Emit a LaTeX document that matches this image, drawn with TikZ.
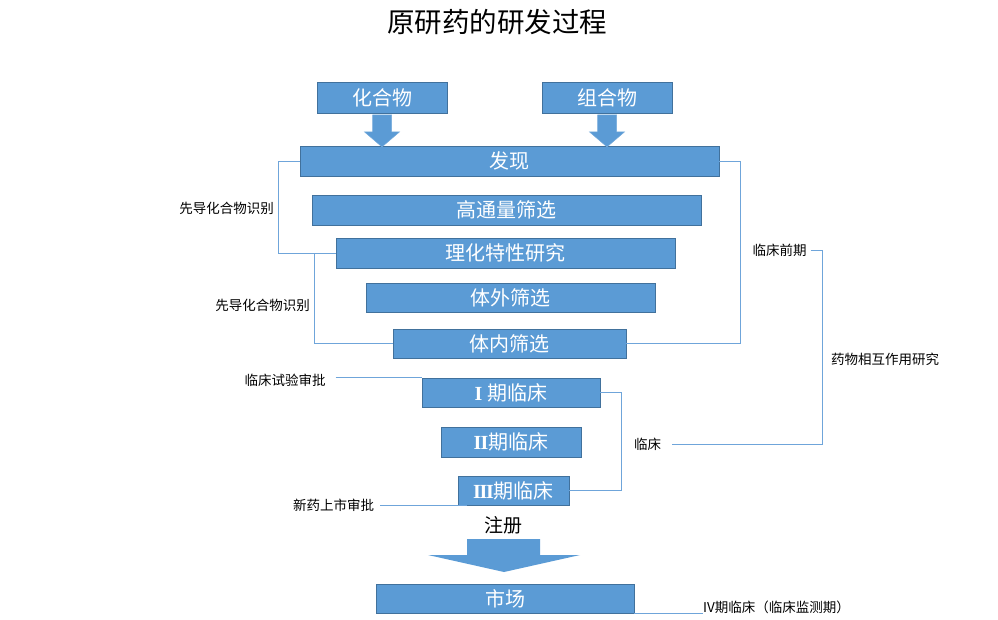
\documentclass[tikz,border=0pt]{standalone}
\usepackage{fontspec}
\setmainfont{Noto Sans CJK SC}
\newfontfamily\romfont{Liberation Serif}
\usetikzlibrary{calc}
\definecolor{bleu}{HTML}{5B9BD5}
\definecolor{bord}{HTML}{41719C}
\definecolor{trait}{HTML}{6FA5DA}

\begin{document}
\begin{tikzpicture}[x=1pt,y=-1pt]
  \tikzstyle{boite}=[rectangle, draw=bord, fill=bleu, line width=0.8pt,
  text=white, font=\fontsize{20}{20}\selectfont, inner sep=0pt]
  \tikzstyle{etiquette}=[inner sep=0pt, text=black,
  font=\fontsize{13.5}{14}\selectfont]
  \tikzstyle{accolade}=[draw=trait, line width=0.8pt]
  \tikzstyle{fleche}=[fill=bleu, draw=bleu!85!white, line width=0.5pt]
  \useasboundingbox (0,0) rectangle (998,619);
  \node[font=\fontsize{27.5}{28}\selectfont] (titre) at (497,22) {原研药的研发过程};
  % les etapes
  \foreach \n/\x/\y/\w/\h/\t in {hua/382/97.5/130/31/化合物, zu/607/97.5/130/31/组合物,
    faxian/509.5/161/419/30/发现, gaotong/506.5/210/389/30/高通量筛选,
    lihua/505.5/253/339/30/理化特性研究, tiwai/510.5/297.5/289/29/体外筛选,
    tinei/509.5/343.5/233/29/体内筛选,
    un/511/392.5/178/29/{{\romfont\bfseries I}\hspace{5pt}期临床},
    deux/511/442/140/30/{{\romfont\bfseries I\kern-0.6pt I}期临床},
    trois/513.5/490.5/111/29/{{\romfont\bfseries I\kern-1.2pt I\kern-1.2pt I}期临床},
    shichang/505/598.5/258/29/市场} {
    \draw (\x,\y) node[boite, minimum width=\w, minimum height=\h] (\n) {\t};
  }
  \foreach \s in {hua,zu} {
    \filldraw[fleche] ($(\s.south)+(-9.5,1.5)$) -- ++(19,0) -- ++(0,17) -- ++(8,0)
      -- ++(-17.5,15) -- ++(-17.5,-15) -- ++(8,0) -- cycle;
  }
  % etiquettes
  \node[etiquette] (xd1) at (226.5,208) {先导化合物识别};
  \node[etiquette] (xd2) at (262.5,305) {先导化合物识别};
  \node[etiquette] (qianqi) at (779.5,250) {临床前期};
  \node[etiquette] (linchuang) at (647.5,444) {临床};
  \node[etiquette] (yaowu) at (885,359) {药物相互作用研究};
  \node[etiquette] (shenpi) at (285,380) {临床试验审批};
  \node[etiquette] (xinyao) at (333.5,505) {新药上市审批};
  \node[etiquette, anchor=west] (iv) at (703,607.5) {IV期临床（临床监测期）};
  \node[font=\fontsize{19}{20}\selectfont] (zhuce) at (503,525) {注册};
  \fill[bleu] (467,539) -- (540,539) -- (540,555) -- (580,555) -- (504,572)
    -- (428,555) -- (467,555) -- cycle;
  % accolades
  \draw[accolade] (faxian.west) -- ++(-21,0) |- (lihua.west);
  \draw[accolade] ([xshift=-21pt]lihua.west) |- (tinei.west);
  \draw[accolade] (faxian.east) -- ++(21,0) |- (tinei.east);
  \draw[accolade] (un.east) -- ++(21,0) |- (trois.east);
  \draw[accolade] ([xshift=4pt]qianqi.east) -- ++(12,0) |- ([xshift=11pt]linchuang.east);
  \draw[accolade] (un.north west -| shenpi.east) ++(10,0) -- (un.north west);
  \draw[accolade] ([xshift=6pt]xinyao.east |- trois.south west) -- ([xshift=9pt]trois.south west);
  \draw[accolade] (shichang.south east) -- (iv.west |- shichang.south east);
\end{tikzpicture}
\end{document}
